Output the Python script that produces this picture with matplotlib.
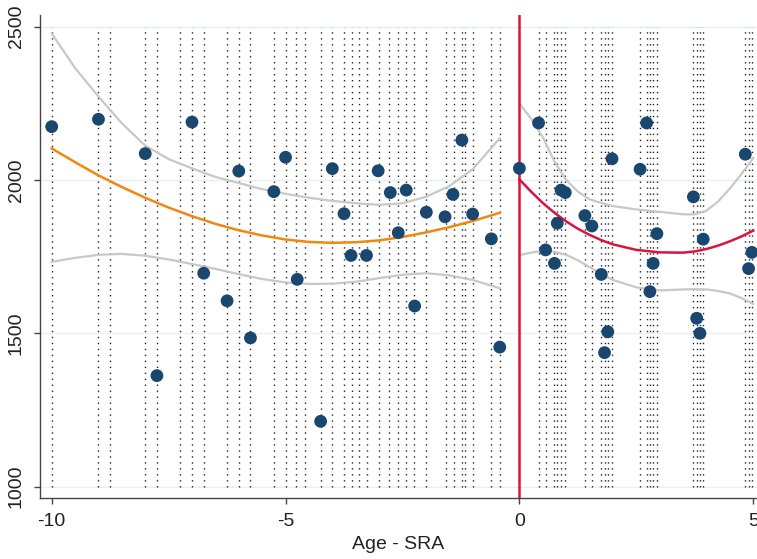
import numpy as np
import matplotlib
matplotlib.use('Agg')
import matplotlib.pyplot as plt

plt.rcParams['font.family'] = ['Liberation Sans', 'DejaVu Sans']

# ages of the sample (vertical dotted lines)
bin_ages = [-10, -9, -8.75, -8, -7.75, -7.25, -7, -6.75, -6.25, -6, -5.75,
            -5.25, -5, -4.78, -4.59, -4.25, -4, -3.75, -3.57, -3.42, -3.25,
            -3, -2.78, -2.6, -2.42, -2.25, -2, -1.58, -1.4, -1.23, -1.17,
            -0.99, -0.6, -0.42, 0,
            0.41, 0.56, 0.75, 0.81, 0.89, 0.98, 1.40, 1.55, 1.75, 1.82,
            1.89, 1.98, 2.58, 2.72, 2.79, 2.86, 2.94, 3.72, 3.79, 3.86,
            3.93, 4.83, 4.90, 4.97]

# scatter points
pt_x = [-10, -9, -8, -7, -6, -5.25, -5, -4, -3.75, -3.6, -3.27, -3.02,
        -6.75, -4.75, -6.25, -5.75, -7.75, -4.25, -2.76, -2.42, -1.99,
        -1.59, -1.42, -1.23, -1.0, -2.59, -0.6, -2.24, -0.42,
        0, 0.41, 0.89, 0.98, 0.81, 1.40, 1.55, 1.98, 2.58, 2.72, 2.94,
        3.72, 3.93, 4.83, 4.97, 4.90, 0.56, 0.75, 1.75, 2.86, 2.79, 3.79,
        3.86, 1.89, 1.82]
pt_y = [2174, 2198, 2086, 2189, 2029, 1962, 2074, 2037, 1890, 1754, 1754,
        2030, 1696, 1676, 1606, 1485, 1362, 1213, 1959, 1967, 1895,
        1880, 1953, 2130, 1889, 1828, 1808, 1589, 1455,
        2038, 2186, 1967, 1959, 1859, 1884, 1850, 2069, 2035, 2186, 1825,
        1945, 1807, 2084, 1764, 1711, 1772, 1728, 1692, 1728, 1636, 1549,
        1500, 1505, 1437]

# fitted polynomial and CI, left of cutoff
left_x = [-10, -9.5, -9, -8.5, -8, -7.5, -7, -6.5, -6, -5.5, -5, -4.5,
          -4, -3.5, -3, -2.5, -2, -1.5, -1, -0.42]
fit_l = [2103, 2058, 2015, 1977, 1942, 1910, 1882, 1857, 1836, 1819, 1806,
         1798, 1795, 1797, 1803, 1814, 1829, 1846, 1866, 1893]
hi_l = [2478, 2365, 2272, 2185, 2112, 2068, 2038, 2010, 1990, 1970, 1955,
        1942, 1932, 1924, 1919, 1924, 1945, 1980, 2035, 2136]
lo_l = [1733, 1746, 1756, 1759, 1753, 1741, 1726, 1710, 1693, 1677, 1666,
        1661, 1662, 1668, 1680, 1691, 1696, 1689, 1674, 1647]

# fitted polynomial and CI, right of cutoff
right_x = [0, 0.25, 0.5, 0.75, 1.0, 1.25, 1.5, 1.75, 2, 2.5, 3, 3.5,
           3.75, 4, 4.25, 4.5, 4.75, 5]
fit_r = [2002, 1962, 1925, 1893, 1865, 1841, 1821, 1804, 1790, 1772, 1764,
         1763, 1767, 1775, 1786, 1800, 1816, 1835]
hi_r = [2250, 2200, 2140, 2060, 2000, 1962, 1937, 1925, 1915, 1904, 1896,
        1888, 1888, 1900, 1930, 1972, 2020, 2071]
lo_r = [1755, 1763, 1769, 1766, 1756, 1738, 1716, 1694, 1674, 1650, 1640,
        1643, 1644, 1643, 1638, 1630, 1615, 1596]

yticks = [1000, 1500, 2000, 2500]
xticks = [-10, -5, 0, 5]

fig = plt.figure(figsize=(7.57, 5.59), dpi=100)
ax = fig.add_axes([40 / 757, 1 - 498 / 559, 717 / 757, 483 / 559])

for y in yticks:
    ax.axhline(y, color='#e8f0f1', lw=1.0, zorder=0)

ax.vlines(bin_ages, 1000, 2500, colors='#222222', lw=1.0,
          linestyles=(0, (1, 3.3)), zorder=1)

ax.plot(left_x, hi_l, color='#c8c8c8', lw=1.6, zorder=2)
ax.plot(left_x, lo_l, color='#c8c8c8', lw=1.6, zorder=2)
ax.plot(right_x, hi_r, color='#c8c8c8', lw=1.6, zorder=2)
ax.plot(right_x, lo_r, color='#c8c8c8', lw=1.6, zorder=2)
ax.plot(left_x, fit_l, color='#f0870f', lw=1.8, zorder=3)
ax.plot(right_x, fit_r, color='#d8153f', lw=1.8, zorder=3)

ax.axvline(0, color='#d8153f', lw=1.8, zorder=3)

ax.scatter(pt_x, pt_y, s=85, color='#1a476f', edgecolors='none', zorder=4)

ax.set_xlim(-10.25, 5.08)
ax.set_ylim(963, 2538)
ax.set_xticks(xticks)
ax.set_yticks(yticks)
ax.set_xticklabels(['-10', '-5', '0', '5'])
ax.set_yticklabels([str(v) for v in yticks])

for side in ['top', 'right']:
    ax.spines[side].set_visible(False)
for side in ['left', 'bottom']:
    ax.spines[side].set_color('#444444')
    ax.spines[side].set_linewidth(1.0)

ax.tick_params(direction='out', length=4, width=1, color='#444444',
               labelsize=14, labelcolor='#222222')
ax.tick_params(axis='x', pad=7)
ax.tick_params(axis='y', pad=7)
for lab in ax.get_yticklabels():
    lab.set_rotation(90)
    lab.set_va('center')

ax.set_xlabel('Age - SRA', fontsize=14, color='#222222', labelpad=4)

fig.savefig('out.png', dpi=100)
